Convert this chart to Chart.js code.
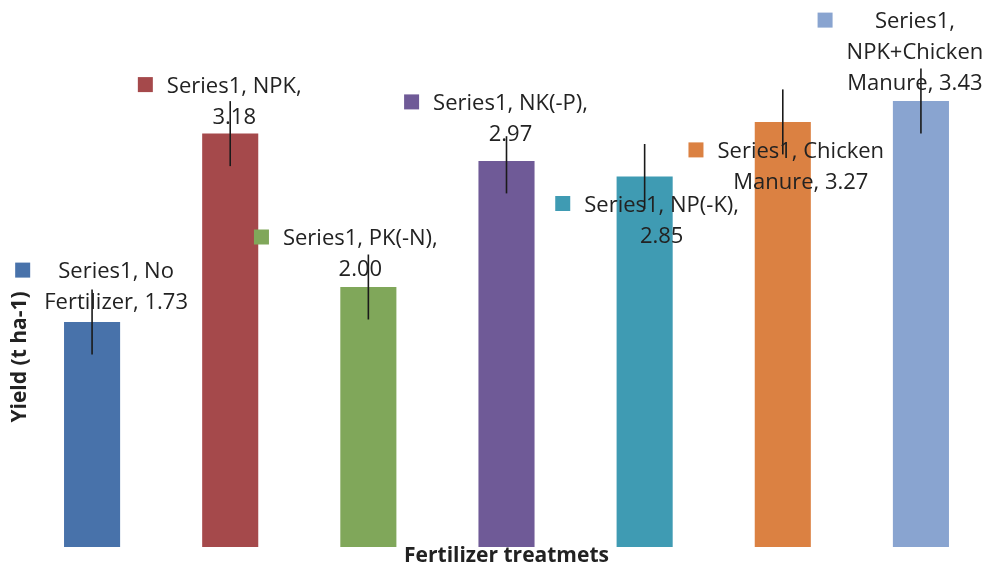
<!DOCTYPE html>
<html>
<head>
<meta charset="utf-8">
<script src="https://cdn.jsdelivr.net/npm/chart.js@4.4.1/dist/chart.umd.min.js"></script>
<style>
  html, body { margin: 0; padding: 0; background: #fff; overflow: hidden; }
  #outer { width: 988px; height: 567px; overflow: hidden; }
  #wrap { width: 992px; height: 567px; position: relative; }
</style>
</head>
<body>
<div id="outer"><div id="wrap"><canvas id="chart"></canvas></div></div>
<script>
// data
const seriesName = "Series1";
const categories = ["No Fertilizer", "NPK", "PK(-N)", "NK(-P)", "NP(-K)", "Chicken Manure", "NPK+Chicken Manure"];
const yieldValues = [1.73, 3.18, 2.00, 2.97, 2.85, 3.27, 3.43];
const errorPlus = [0.25, 0.25, 0.25, 0.19, 0.25, 0.25, 0.25];
const errorMinus = [0.25, 0.25, 0.25, 0.25, 0.25, 0.25, 0.25];
const barColors = ["#4872AA", "#A5494B", "#80A75A", "#6F5A97", "#3F9BB3", "#DB8142", "#89A4D0"];

// label placement: [dx from bar centre, dy of first baseline from bar top]
const labelOffsets = [[24, -44], [4, -41], [-8, -42], [4, -51], [17, 35], [18, 36], [-6, -73]];
const labelFont = "22px 'Open Sans'";
const lineGap = 31;
const wrapWidth = 175;

function wrapText(ctx, text, maxW) {
  const words = text.split(" ");
  const lines = [];
  let cur = "";
  words.forEach((w) => {
    const test = cur ? cur + " " + w : w;
    if (cur && ctx.measureText(test).width > maxW) {
      lines.push(cur);
      cur = w;
    } else {
      cur = test;
    }
  });
  if (cur) lines.push(cur);
  return lines;
}

const extrasPlugin = {
  id: "extras",
  afterDatasetsDraw(chart) {
    const ctx = chart.ctx;
    const meta = chart.getDatasetMeta(0);
    const y = chart.scales.y;
    ctx.save();

    // error bars
    ctx.strokeStyle = "#1a1a1a";
    ctx.lineWidth = 1.6;
    meta.data.forEach((bar, i) => {
      const v = yieldValues[i];
      ctx.beginPath();
      ctx.moveTo(bar.x, y.getPixelForValue(v + errorPlus[i]));
      ctx.lineTo(bar.x, y.getPixelForValue(v - errorMinus[i]));
      ctx.stroke();
    });

    // data labels with legend key
    ctx.font = labelFont;
    ctx.textBaseline = "alphabetic";
    ctx.textAlign = "center";
    meta.data.forEach((bar, i) => {
      const text = `${seriesName}, ${categories[i]}, ${yieldValues[i].toFixed(2)}`;
      const lines = wrapText(ctx, text, wrapWidth);
      const cx = bar.x + labelOffsets[i][0];
      const by = bar.y + labelOffsets[i][1];
      const maxW = Math.max(...lines.map((l) => ctx.measureText(l).width));
      ctx.fillStyle = barColors[i];
      ctx.fillRect(cx - maxW / 2 - 29, by - 15.5, 15, 15);
      ctx.fillStyle = "#222";
      lines.forEach((l, k) => ctx.fillText(l, cx, by + k * lineGap));
    });

    // axis titles
    ctx.font = "bold 21px 'Open Sans'";
    ctx.fillStyle = "#222";
    ctx.textAlign = "center";
    ctx.textBaseline = "alphabetic";
    const area = chart.chartArea;
    ctx.fillText("Fertilizer treatmets", (area.left + area.right) / 2, 562);
    ctx.translate(26, 357);
    ctx.rotate(-Math.PI / 2);
    ctx.fillText("Yield (t ha-1)", 0, 0);
    ctx.restore();
  },
};

new Chart(document.getElementById("chart"), {
  type: "bar",
  data: {
    labels: categories,
    datasets: [
      {
        label: seriesName,
        data: yieldValues,
        backgroundColor: barColors,
        borderWidth: 0,
        barPercentage: 0.406,
        categoryPercentage: 1,
      },
    ],
  },
  options: {
    responsive: true,
    maintainAspectRatio: false,
    animation: false,
    layout: { padding: { left: 23, right: 2, top: 27, bottom: 20 } },
    scales: {
      x: { display: false },
      y: { display: false, min: 0, max: 4 },
    },
    plugins: {
      legend: { display: false },
      tooltip: { enabled: false },
    },
  },
  plugins: [extrasPlugin],
});
</script>
</body>
</html>
